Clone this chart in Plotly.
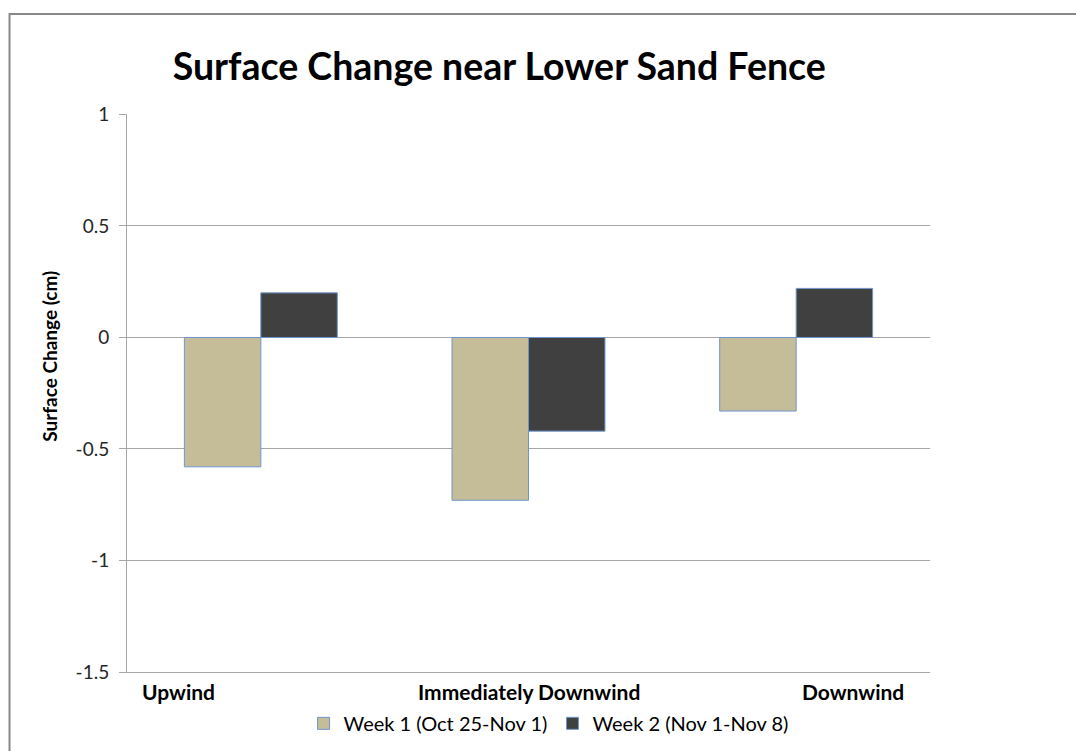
import plotly.graph_objects as go

# Measurement locations along the fence transect
categories = ["Upwind", "Immediately Downwind", "Downwind"]

# Surface change in cm for each measurement week
week1_label = "Week 1 (Oct 25-Nov 1)"
week1_values = [-0.58, -0.73, -0.33]
week2_label = "Week 2 (Nov 1-Nov 8)"
week2_values = [0.20, -0.42, 0.22]

y_ticks = [1, 0.5, 0, -0.5, -1, -1.5]
y_tick_text = ["1", "0.5", "0", "-0.5", "-1", "-1.5"]
y_title = "Surface Change (cm)"

FONT = "Lato"
OUTLINE = "#6f96cc"
GRID = "#a6a6a6"

fig = go.Figure()
fig.add_trace(go.Bar(
    name=week1_label, x=categories, y=week1_values,
    marker=dict(color="#c4bd97", line=dict(color=OUTLINE, width=1)),
))
fig.add_trace(go.Bar(
    name=week2_label, x=categories, y=week2_values,
    marker=dict(color="#404040", line=dict(color=OUTLINE, width=1)),
))

# Category labels placed beneath the axis (left, centre, right aligned)
label_pos = [(-0.45, "left"), (1.0, "center"), (2.41, "right")]
for cat, (xp, anchor) in zip(categories, label_pos):
    fig.add_annotation(
        x=xp, y=-1.5, xref="x", yref="y", yshift=-19,
        text=f"<b>{cat}</b>", showarrow=False, xanchor=anchor, yanchor="middle",
        font=dict(family=FONT, size=21, color="#000000"),
    )

# Rotated value-axis title, sitting a little above the plot's middle
fig.add_annotation(
    x=-0.0959, y=0.5666, xref="paper", yref="paper",
    text=f"<b>{y_title}</b>", textangle=-90, showarrow=False,
    xanchor="center", yanchor="middle",
    font=dict(family=FONT, size=19, color="#000000"),
)

# Outer chart frame (left and top edges visible)
fig.add_shape(
    type="rect", xref="paper", yref="paper",
    x0=-0.1463, x1=1.4, y0=-0.4, y1=1.179,
    line=dict(color="#878787", width=2), fillcolor="rgba(0,0,0,0)", layer="below",
)

fig.update_layout(
    width=1076, height=751,
    margin=dict(l=127, r=146, t=114, b=79, autoexpand=False),
    paper_bgcolor="white", plot_bgcolor="white",
    barmode="group", bargap=0.4286, bargroupgap=0,
    showlegend=True,
    title=dict(
        text="<b>Surface Change near Lower Sand Fence</b>",
        x=0.464, xref="container", xanchor="center",
        y=0.911, yref="container", yanchor="middle",
        font=dict(family=FONT, size=37.5, color="#000000"),
    ),
    legend=dict(
        orientation="h", x=0.525, xanchor="center", y=-0.092, yanchor="middle",
        font=dict(family=FONT, size=20, color="#000000"),
        itemwidth=30, traceorder="normal",
    ),
    xaxis=dict(
        showticklabels=False, showgrid=False, zeroline=False,
        showline=True, linecolor=GRID, linewidth=1, ticks="",
    ),
    yaxis=dict(
        range=[-1.5, 1.002], tickvals=y_ticks, ticktext=y_tick_text,
        showgrid=True, gridcolor=GRID, gridwidth=1,
        zeroline=False, showline=True, linecolor=GRID, linewidth=1,
        ticks="outside", ticklen=7, tickcolor=GRID, ticklabelstandoff=6,
        tickfont=dict(family=FONT, size=19, color="#262626"),
    ),
)

fig.write_html("out.html")
